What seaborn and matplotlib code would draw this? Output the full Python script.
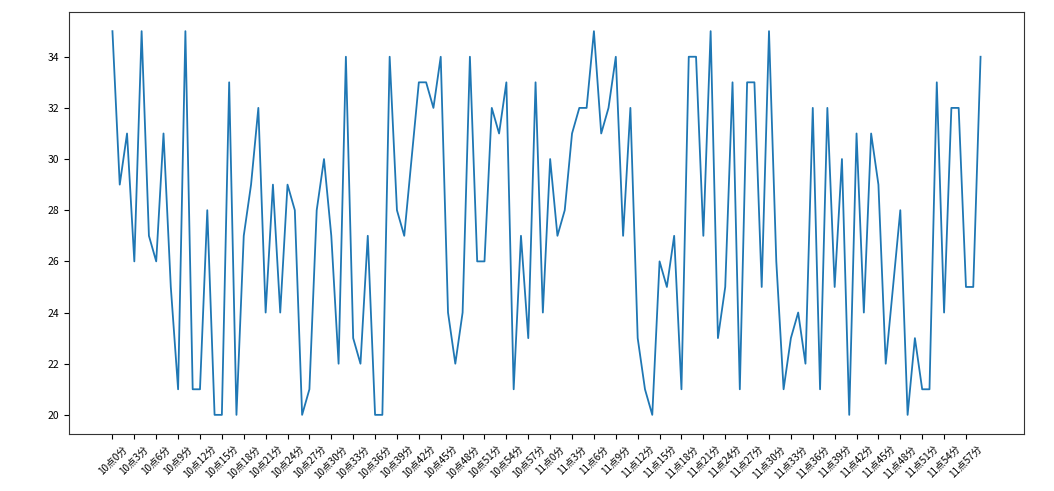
import matplotlib
matplotlib.use("Agg")
import matplotlib.pyplot as plt
import seaborn as sns
import pandas as pd

# time labels: 10点0分 ... 11点59分
hours = [10] * 60 + [11] * 60
minutes = list(range(60)) + list(range(60))
time_labels = [f"{h}点{m}分" for h, m in zip(hours, minutes)]

temperature = [
    35, 29, 31, 26, 35, 27, 26, 31, 25, 21,
    35, 21, 21, 28, 20, 20, 33, 20, 27, 29,
    32, 24, 29, 24, 29, 28, 20, 21, 28, 30,
    27, 22, 34, 23, 22, 27, 20, 20, 34, 28,
    27, 30, 33, 33, 32, 34, 24, 22, 24, 34,
    26, 26, 32, 31, 33, 21, 27, 23, 33, 24,
    30, 27, 28, 31, 32, 32, 35, 31, 32, 34,
    27, 32, 23, 21, 20, 26, 25, 27, 21, 34,
    34, 27, 35, 23, 25, 33, 21, 33, 33, 25,
    35, 26, 21, 23, 24, 22, 32, 21, 32, 25,
    30, 20, 31, 24, 31, 29, 22, 25, 28, 20,
    23, 21, 21, 33, 24, 32, 32, 25, 25, 34,
]

df = pd.DataFrame({"idx": range(len(time_labels)), "temp": temperature})

plt.rcParams['font.family'] = ['Noto Sans CJK SC', 'DejaVu Sans']

fig, ax = plt.subplots(figsize=(10.54, 4.91), dpi=100)
fig.subplots_adjust(left=0.0655, right=0.9715, top=0.9756, bottom=0.116)

sns.lineplot(data=df, x="idx", y="temp", ax=ax, color="#1f77b4", linewidth=1.3)

tick_pos = list(range(0, len(time_labels), 3))
ax.set_xticks(tick_pos)
ax.set_xticklabels([time_labels[i] for i in tick_pos], rotation=45, fontsize=7)
ax.tick_params(axis="y", labelsize=7.5)
ax.set_xlabel("")
ax.set_ylabel("")
ax.margins(x=0.05, y=0.05)
for s in ax.spines.values():
    s.set_color("#333333")

fig.savefig("out.png", dpi=100)
